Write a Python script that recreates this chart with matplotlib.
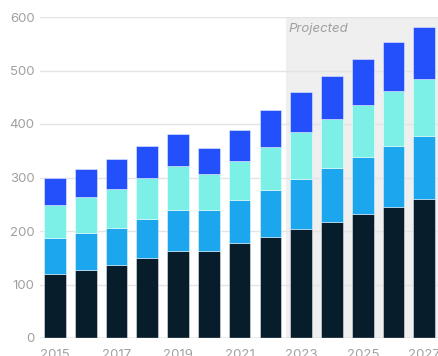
import matplotlib
matplotlib.use("Agg")
from matplotlib import pyplot as plt

years = list(range(2015, 2028))
seg1 = [119, 127, 137, 150, 163, 163, 177, 188, 203, 216, 231, 244, 259]
seg2 = [67, 69, 69, 72, 76, 76, 81, 89, 95, 101, 107, 114, 118]
seg3 = [63, 67, 72, 78, 83, 68, 73, 80, 87, 92, 97, 103, 108]
seg4 = [51, 53, 56, 59, 59, 48, 58, 69, 75, 80, 87, 92, 97]
colors = ["#071d2c", "#1ba6ee", "#7cf0e6", "#2350fa"]
xtick_years = [2015, 2017, 2019, 2021, 2023, 2025, 2027]
yticks = [0, 100, 200, 300, 400, 500, 600]

plt.rcParams['font.family'] = ['Inter', 'DejaVu Sans']

fig = plt.figure(figsize=(4.38, 3.56), dpi=100)
ax = fig.add_axes([40 / 438, 1 - 338 / 356, 398 / 438, 321 / 356])

# projected region
ax.axvspan(2022.5, 2028, color="#efefef", zorder=0, lw=0)
ax.text(2022.6, 578, "Projected", style="italic", color="#a0a0a0",
        fontsize=9.5, va="center", ha="left")

bottom = [0] * len(years)
for seg, col in zip([seg1, seg2, seg3, seg4], colors):
    ax.bar(years, seg, bottom=bottom, width=0.705, color=col,
           edgecolor=(1, 1, 1, 0.45), linewidth=0.7, zorder=3)
    bottom = [b + s for b, s in zip(bottom, seg)]

ax.set_xlim(2015 - 0.487, 2027.445)
ax.set_ylim(0, 600)
ax.set_yticks(yticks)
ax.set_xticks(xtick_years)
ax.grid(axis="y", color="#e4e4e4", linewidth=1, zorder=1)
ax.axhline(0, color="#bbbbbb", linewidth=1, zorder=4)
for s in ax.spines.values():
    s.set_visible(False)
ax.tick_params(length=0, colors="#a0a0a0", labelsize=9.5)
ax.tick_params(axis="y", pad=4)
ax.tick_params(axis="x", pad=8)

fig.savefig("out.png", dpi=100)
